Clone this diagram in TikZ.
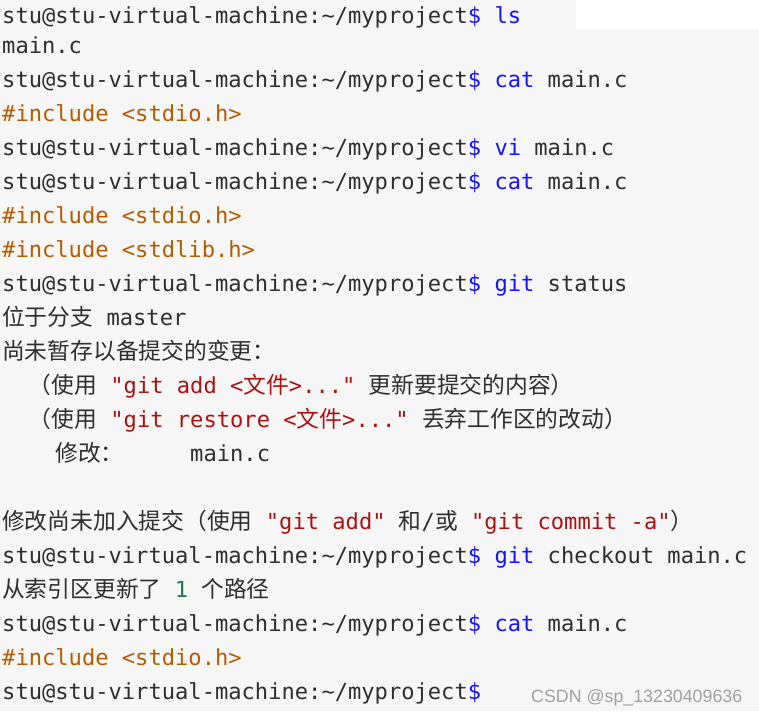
\documentclass[tikz,border=0pt]{standalone}
\usepackage{fontspec}
\setmainfont{DejaVu Sans}
\setmonofont{DejaVu Sans Mono}
\newfontfamily\cjkfont[Scale=1.03]{Noto Sans CJK SC}
\newfontfamily\markfont{Liberation Sans}
\usepackage{tikz}
\usepackage{xcolor}
\definecolor{termbg}{RGB}{246,246,246}
\definecolor{termtext}{RGB}{46,46,46}
\definecolor{termblue}{RGB}{20,20,250}
\definecolor{termorange}{RGB}{180,92,0}
\definecolor{termred}{RGB}{170,17,17}
\definecolor{termgreen}{RGB}{30,120,80}
\definecolor{termmark}{RGB}{160,160,160}
\newcommand{\zh}[1]{{\cjkfont #1}}
\newcommand{\cmd}[1]{\textcolor{termblue}{#1}}
\newcommand{\prompt}{stu@stu-virtual-machine:\textasciitilde/myproject\textcolor{termblue}{\$}}
\tikzstyle{termline} = [anchor=base west, inner sep=0pt, text=termtext, font=\fontsize{22.1}{22.1}\selectfont\ttfamily]
\tikzstyle{include} = [termline, text=termorange]

\begin{document}
\begin{tikzpicture}[x=1pt, y=-1pt]
\useasboundingbox (0,0) rectangle (759,715);
% Terminal background
\fill[termbg] (0,0) rectangle (759,711);
\fill[white] (576,0) rectangle (759,29);
\fill[white] (0,711) rectangle (759,715);

% First listing
\node[termline] (ls) at (2,23) {\prompt\ \cmd{ls}};
\node[termline] (lsout) at (2,53.5) {main.c};
\node[termline] (cat1) at (2,87.5) {\prompt\ \cmd{cat} main.c};
\node[include] (inc1) at (2,121.5) {\#include <stdio.h>};

% Edit and show again
\node[termline] (vi) at (2,155.5) {\prompt\ \cmd{vi} main.c};
\node[termline] (cat2) at (2,189.5) {\prompt\ \cmd{cat} main.c};
\node[include] (inc2) at (2,223.5) {\#include <stdio.h>};
\node[include] (inc3) at (2,257.5) {\#include <stdlib.h>};

% git status output
\node[termline] (status) at (2,291.5) {\prompt\ \cmd{git} status};
\node[termline] (branch) at (2,325.5) {\zh{位于分支}\ master};
\node[termline] (unstaged) at (2,359.5) {\zh{尚未暂存以备提交的变更：}};
\node[termline] (hintadd) at (2,393.5) {\ \ \zh{（使用}\ \textcolor{termred}{"git add <\zh{文件}>..."}\ \zh{更新要提交的内容）}};
\node[termline] (hintrestore) at (2,427.5) {\ \ \zh{（使用}\ \textcolor{termred}{"git restore <\zh{文件}>..."}\ \zh{丢弃工作区的改动）}};
\node[termline] (modified) at (2,461.5) {\ \ \ \ \zh{修改：}\ \ \ \ \ main.c};
\node[termline] (nocommit) at (2,529.5) {\zh{修改尚未加入提交（使用}\ \textcolor{termred}{"git add"}\ \zh{和}/\zh{或}\ \textcolor{termred}{"git commit -a"}\zh{）}};

% Checkout restores the file
\node[termline] (checkout) at (2,563.5) {\prompt\ \cmd{git} checkout main.c};
\node[termline] (updated) at (2,597.5) {\zh{从索引区更新了}\ \textcolor{termgreen}{1}\ \zh{个路径}};
\node[termline] (cat3) at (2,631.5) {\prompt\ \cmd{cat} main.c};
\node[include] (inc4) at (2,665.5) {\#include <stdio.h>};
\node[termline] (last) at (2,699.5) {\prompt};

% Watermark
\node[anchor=base west, inner sep=0pt, text=termmark, font=\markfont\fontsize{17.8}{17.8}\selectfont] (mark) at (531,702) {CSDN @sp\_13230409636};
\end{tikzpicture}
\end{document}
